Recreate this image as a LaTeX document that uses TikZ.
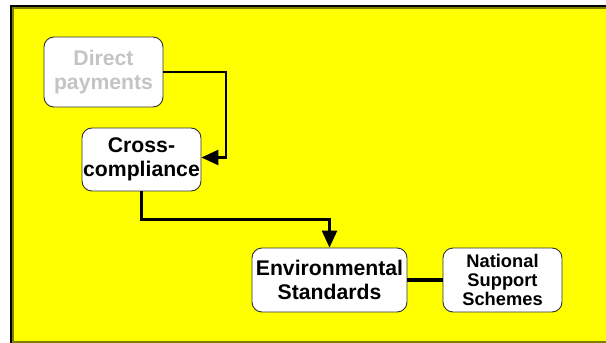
\documentclass[tikz,border=0pt]{standalone}
\usepackage{fontspec}
\setmainfont{Liberation Sans}
\usetikzlibrary{arrows.meta}
\definecolor{panel}{RGB}{255,255,0}
\definecolor{rim}{RGB}{128,128,0}
\definecolor{faded}{RGB}{196,196,196}
\definecolor{boxline}{RGB}{50,50,50}
\begin{document}
\begin{tikzpicture}[x=1pt,y=-1pt,
  box/.style={draw=boxline,line width=0.9pt,fill=white,rounded corners=10pt,
    inner sep=0pt,align=center,font=\bfseries\fontsize{21.2}{24}\selectfont},
  smallbox/.style={box,font=\bfseries\fontsize{18.3}{18.8}\selectfont},
  link/.style={line width=2.6pt,-{Triangle[length=17pt,width=15pt]}},
  barlink/.style={line width=4.5pt}]
  \useasboundingbox (0,0) rectangle (606,343);
  % yellow panel with its frame
  \fill[panel] (11,6) rectangle (606,343);
  \draw[rim,line width=1.5pt] (12.8,343) -- (12.8,8) -- (606,8);
  \draw[line width=2pt] (11,343) -- (11,6) -- (606,6);
  \draw[rim,line width=1.5pt] (12,342.2) -- (606,342.2);
  % boxes
  \node[box,minimum width=119pt,minimum height=70pt,text=faded] (dp) at (103.5,72) {Direct\\payments};
  \node[box,minimum width=119pt,minimum height=63pt] (cc) at (141.5,159.5) {Cross-\\compliance};
  \node[box,minimum width=155pt,minimum height=64pt] (env) at (329.5,280) {Environmental\\Standards};
  \node[smallbox,minimum width=119pt,minimum height=64pt] (nss) at (502.5,280) {National\\Support\\Schemes};
  % connectors
  \coordinate (turnA) at (226,72);
  \coordinate (turnB) at (141.5,219.5);
  \draw[link] (dp.east) -- (turnA) |- ([yshift=2pt]cc.east);
  \draw[link] (cc.south) -- (turnB) -| (env.north);
  \draw[barlink] (env.east) -- (nss.west);
\end{tikzpicture}
\end{document}
